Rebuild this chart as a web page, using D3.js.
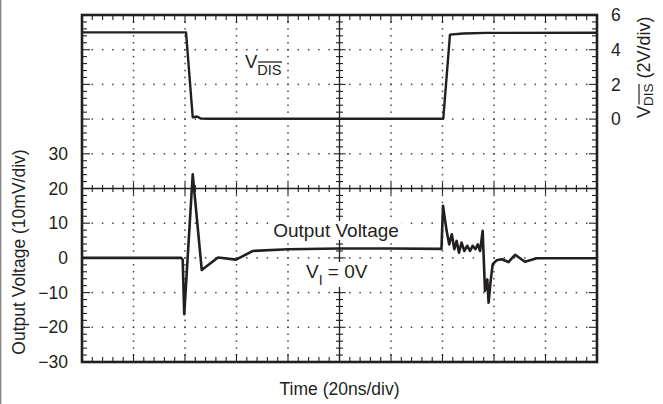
<!DOCTYPE html>
<html>
<head>
<meta charset="utf-8">
<script src="https://cdn.jsdelivr.net/npm/d3@7"></script>
<style>
  html, body { margin: 0; padding: 0; background: #fff; }
  svg { display: block; }
  text { font-family: "Liberation Sans", Arial, Helvetica, sans-serif; fill: #231f20; }
</style>
</head>
<body>
<svg id="chart" width="663" height="404"></svg>
<script>
// ---- Data (time in ns, 20 ns/div) ----
const vdisTime = [0, 40.4, 43.0, 44.6, 46.2, 50, 140.3, 142.9, 148, 157, 200];
const vdisVolts = [5.0, 5.0, 0.1, 0.15, 0.03, 0.02, 0.02, 4.87, 4.93, 4.97, 4.98];

const outTime = [0, 38.5, 39.1, 39.7, 43.0, 46.5, 52.8, 59.8, 66.4, 80, 100, 120, 139.6,
  140.2, 141.6, 142.6, 143.6, 144.6, 145.5, 146.4, 147.4, 148.5, 149.6, 150.7, 151.7, 152.8,
  153.7, 154.6, 155.6, 156.5, 157.4, 157.9, 158.7, 159.5, 161.0, 163.0, 165.6, 168.2, 172,
  176.6, 200];
const outMilliVolts = [0, 0, -0.5, -16.2, 24.1, -3.5, 0.1, -0.5, 2.0, 2.5, 2.7, 2.7, 2.6,
  15, 7.8, 3.9, 6.8, 2.5, 4.9, 1.5, 4.4, 2.0, 3.5, 2.0, 3.5, 2.5,
  3.9, 2.0, 7.8, -9.5, -6.2, -12.9, -6.6, -1.8, -0.7, -0.4, -1.2, 0.9, -1.1,
  -0.1, -0.1];

const leftTicks = [-30, -20, -10, 0, 10, 20, 30];
const rightTicks = [0, 2, 4, 6];
const timeDivs = [0, 20, 40, 60, 80, 100, 120, 140, 160, 180, 200];

// ---- Layout ----
const svg = d3.select("#chart");
const L = 82, R = 597, T = 15, B = 362;
const x = d3.scaleLinear().domain([0, 200]).range([L, R]);
const yL = d3.scaleLinear().domain([-30, 70]).range([B, T]);
const yR = d3.scaleLinear().domain([-14, 6]).range([B, T]);
const ink = "#231f20";

// page edge line at far left
svg.append("line").attr("x1", 0.7).attr("x2", 0.7).attr("y1", 0).attr("y2", 404)
  .attr("stroke", "#8a8a8a").attr("stroke-width", 1.4);

// ---- Dotted grid (dots at minor tick crossings) ----
const minorT = d3.range(0, 200.001, 4);
const minorY = d3.range(-30, 70.001, 2);
const gridT = timeDivs.filter(t => t > 0 && t < 200 && t !== 100);
const gridY = d3.range(-20, 61, 10).filter(v => v !== 20);
const dots = [];
gridT.forEach(t => minorY.forEach(v => dots.push([x(t), yL(v)])));
gridY.forEach(v => minorT.forEach(t => dots.push([x(t), yL(v)])));
svg.append("g").selectAll("rect").data(dots).join("rect")
  .attr("x", d => d[0] - 0.75).attr("y", d => d[1] - 0.75)
  .attr("width", 1.5).attr("height", 1.5).attr("fill", "#444");

// ---- Center axes with tick marks ----
const cy = yL(20), cx = x(100);
const g = svg.append("g").attr("stroke", ink);
g.append("line").attr("x1", L).attr("x2", R).attr("y1", cy).attr("y2", cy).attr("stroke-width", 1.3);
g.append("line").attr("x1", cx).attr("x2", cx).attr("y1", T).attr("y2", B).attr("stroke-width", 1.3);
minorT.forEach(t => {
  const major = t % 20 === 0;
  const h = major ? 6 : 3.5;
  g.append("line").attr("x1", x(t)).attr("x2", x(t)).attr("y1", cy - h).attr("y2", cy + h).attr("stroke-width", 1.1);
});
minorY.forEach(v => {
  const major = v % 10 === 0;
  const h = major ? 6 : 3.5;
  g.append("line").attr("x1", cx - h).attr("x2", cx + h).attr("y1", yL(v)).attr("y2", yL(v)).attr("stroke-width", 1.1);
});

// ---- Frame ticks (inward) ----
minorT.forEach(t => {
  const h = t % 20 === 0 ? 8 : 5;
  g.append("line").attr("x1", x(t)).attr("x2", x(t)).attr("y1", T).attr("y2", T + h).attr("stroke-width", 1.1);
  g.append("line").attr("x1", x(t)).attr("x2", x(t)).attr("y1", B).attr("y2", B - h).attr("stroke-width", 1.1);
});
minorY.forEach(v => {
  const h = v % 10 === 0 ? 8 : 5;
  g.append("line").attr("x1", L).attr("x2", L + h).attr("y1", yL(v)).attr("y2", yL(v)).attr("stroke-width", 1.1);
  g.append("line").attr("x1", R).attr("x2", R - h).attr("y1", yL(v)).attr("y2", yL(v)).attr("stroke-width", 1.1);
});

// ---- Frame ----
svg.append("rect").attr("x", L).attr("y", T).attr("width", R - L).attr("height", B - T)
  .attr("fill", "none").attr("stroke", ink).attr("stroke-width", 2.6);

// ---- In-plot labels (with white knock-out background) ----
const labelLayer = svg.append("g");
function knockout(sel, pad) {
  const b = sel.node().getBBox();
  labelLayer.insert("rect", ":first-child")
    .attr("x", b.x - pad).attr("y", b.y + 1).attr("width", b.width + 2 * pad).attr("height", b.height - 2)
    .attr("fill", "#fff");
}

const vl = labelLayer.append("text").attr("x", 245).attr("y", 68).attr("font-size", 18.5);
vl.append("tspan").text("V");
vl.append("tspan").attr("font-size", 14.5).attr("dy", 7).text("DIS");
labelLayer.append("line").attr("x1", 258).attr("x2", 282).attr("y1", 62).attr("y2", 62)
  .attr("stroke", ink).attr("stroke-width", 1.3);

const ov = labelLayer.append("text").attr("x", 336).attr("y", 237).attr("text-anchor", "middle")
  .attr("font-size", 19).text("Output Voltage");
knockout(ov, 3);

const vi = labelLayer.append("text").attr("x", 306).attr("y", 278).attr("font-size", 19);
vi.append("tspan").text("V");
vi.append("tspan").attr("font-size", 14).attr("dy", 7).text("I");
vi.append("tspan").attr("dy", -7).text(" = 0V");
knockout(vi, 3);

// ---- Traces ----
const vdisLine = d3.line().x((d, i) => x(vdisTime[i])).y(d => yR(d));
svg.append("path").datum(vdisVolts).attr("d", vdisLine)
  .attr("fill", "none").attr("stroke", ink).attr("stroke-width", 2.4).attr("stroke-linejoin", "round");

const outLine = d3.line().x((d, i) => x(outTime[i])).y(d => yL(d));
svg.append("path").datum(outMilliVolts).attr("d", outLine)
  .attr("fill", "none").attr("stroke", ink).attr("stroke-width", 2.6).attr("stroke-linejoin", "round");

// ---- Axes labels ----
const leftAxis = d3.axisLeft(yL).tickValues(leftTicks).tickSize(0).tickPadding(14)
  .tickFormat(d => d < 0 ? "\u2212" + Math.abs(d) : String(d));
const la = svg.append("g").attr("transform", `translate(${L},0)`).call(leftAxis);
la.select(".domain").remove();
la.selectAll("text").attr("font-size", 17.5).attr("fill", ink)
  .attr("font-family", "'Liberation Sans', Arial, sans-serif");

const rightAxis = d3.axisRight(yR).tickValues(rightTicks).tickSize(0).tickPadding(14);
const ra = svg.append("g").attr("transform", `translate(${R},0)`).call(rightAxis);
ra.select(".domain").remove();
ra.selectAll("text").attr("font-size", 17.5).attr("fill", ink)
  .attr("font-family", "'Liberation Sans', Arial, sans-serif");

// ---- Titles ----
svg.append("text").attr("x", (L + R) / 2).attr("y", 395).attr("text-anchor", "middle")
  .attr("font-size", 17.5).text("Time (20ns/div)");

svg.append("text").attr("transform", "translate(25,252) rotate(-90)").attr("text-anchor", "middle")
  .attr("font-size", 17.5).text("Output Voltage (10mV/div)");

// right title: V_DIS (2V/div)
const rt = svg.append("text").attr("transform", "translate(650,118) rotate(-90)")
  .attr("text-anchor", "start").attr("font-size", 18);
rt.append("tspan").text("V");
rt.append("tspan").attr("font-size", 13.5).attr("dy", 3).text("DIS");
rt.append("tspan").attr("dy", -3).text(" (2V/div)");
svg.append("line").attr("x1", 639).attr("x2", 639).attr("y1", 104.5).attr("y2", 84)
  .attr("stroke", ink).attr("stroke-width", 1.2);
</script>
</body>
</html>
